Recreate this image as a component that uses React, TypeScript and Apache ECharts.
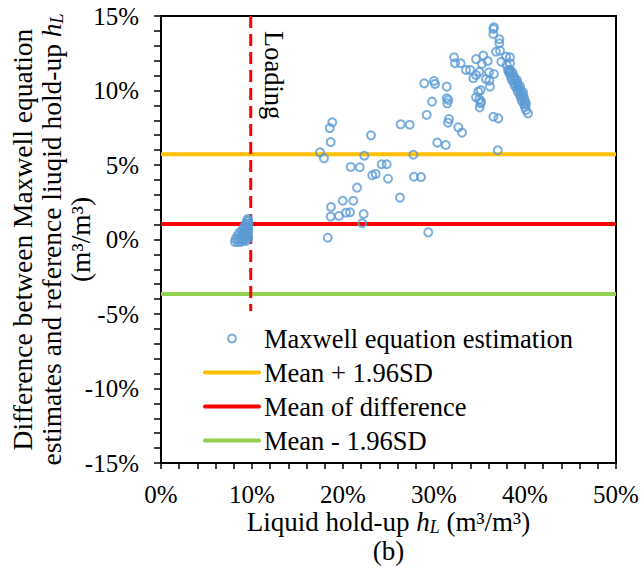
import React, { useEffect, useRef } from 'react';
import * as echarts from 'echarts';

const FONT = 'Liberation Serif';

// Reference lines (values in %)
const meanPlus196SD = 5.72;
const meanOfDifference = 1.04;
const meanMinus196SD = -3.66;
const loadingHoldUp = 9.86;
const loadingLineRange = [15, -4.8];

const xRange = [0, 50];
const yRange = [-15, 15];

// Maxwell equation estimation points: [liquid hold-up %, difference %]
const loadingClusterPoints = [
  [8.13, -0.17], [8.46, -0.17], [8.79, -0.17], [8.2, 0.03], [8.5, 0.03], [8.9, 0.03], [9.3, 0.03],
  [8.4, 0.23], [8.8, 0.23], [9.2, 0.23], [9.5, 0.23], [8.6, 0.44], [9.0, 0.44], [9.35, 0.44],
  [9.55, 0.44], [8.9, 0.64], [9.2, 0.64], [9.45, 0.64], [9.6, 0.64], [9.1, 0.84], [9.4, 0.84],
  [9.58, 0.84], [9.3, 1.04], [9.5, 1.04], [9.6, 1.04], [9.45, 1.24], [9.58, 1.24], [9.55, 1.38],
  [9.34, -0.1], [9.6, 0.1], [9.0, -0.05],
];

const scatteredPoints = [
  [18.82, 7.87], [18.54, 7.48], [18.65, 6.54], [17.47, 5.85], [17.91, 5.45], [23.08, 6.99],
  [22.34, 5.62], [20.85, 4.87], [21.84, 4.85], [24.25, 5.05], [24.8, 5.05], [23.22, 4.31],
  [23.59, 4.4], [24.95, 4.08], [21.54, 3.48], [19.97, 2.6], [21.13, 2.6], [18.68, 2.18],
  [18.65, 1.53], [19.56, 1.58], [20.33, 1.8], [20.77, 1.83], [22.27, 1.71], [22.12, 1.09],
  [18.32, 0.12], [26.34, 7.73], [27.33, 7.7], [29.2, 8.36], [29.78, 9.25], [27.73, 5.69],
  [27.8, 4.21], [28.57, 4.19], [26.26, 2.81], [29.37, 0.48], [30.36, 6.5], [31.29, 6.34],
  [31.65, 8.09], [31.54, 7.84], [32.67, 7.53], [33.08, 7.17], [28.93, 10.48], [30.0, 10.64],
  [30.11, 10.44], [31.4, 10.26], [31.4, 9.48], [31.57, 9.36], [31.46, 9.14], [36.52, 8.24],
  [37.07, 8.13], [37.0, 5.99],
];

const upperClusterPoints = [
  [36.59, 14.24], [36.52, 14.13], [36.52, 13.79], [37.18, 13.44], [37.18, 13.17], [37.25, 12.67],
  [36.81, 12.6], [37.4, 11.93], [37.91, 12.27], [38.35, 12.23], [38.35, 11.83], [37.99, 11.71],
  [32.2, 12.23], [32.31, 11.83], [32.93, 11.83], [34.62, 12.11], [35.42, 12.34], [35.9, 11.98],
  [35.27, 11.78], [33.52, 11.38], [33.96, 11.38], [34.98, 11.26], [34.62, 11.04], [34.32, 10.82],
  [36.04, 11.22], [36.59, 11.11], [35.71, 10.77], [36.08, 10.66], [36.15, 10.26], [35.13, 10.03],
  [34.87, 9.92], [34.62, 9.54], [34.98, 9.41], [35.13, 9.14], [35.02, 8.87], [35.16, 9.25],
];

const bandPoints = [
  [38.13, 11.38], [38.35, 11.38], [38.24, 11.24], [38.57, 11.24], [38.35, 11.11], [38.68, 11.11],
  [38.46, 10.91], [38.79, 10.91], [38.57, 10.7], [38.9, 10.7], [39.12, 10.7], [38.79, 10.5],
  [39.12, 10.5], [38.9, 10.3], [39.23, 10.3], [39.45, 10.3], [39.12, 10.1], [39.45, 10.1],
  [39.23, 9.9], [39.56, 9.9], [39.78, 9.9], [39.45, 9.7], [39.78, 9.7], [39.56, 9.5],
  [39.89, 9.5], [39.67, 9.3], [40.0, 9.3], [39.89, 9.09], [40.11, 9.09], [40.0, 8.89],
  [40.11, 8.69], [40.33, 8.47],
];

const seriesNames = [
  'Maxwell equation estimation',
  'Mean + 1.96SD',
  'Mean of difference',
  'Mean - 1.96SD',
];

const COLORS = {
  blue: '#5B9BD5',
  yellow: '#FFC000',
  red: '#FF0000',
  green: '#92D050',
};

export default function App() {
  const ref = useRef<HTMLDivElement>(null);

  useEffect(() => {
    if (!ref.current) return;
    const chart = echarts.init(ref.current, null, { renderer: 'svg' });

    const allPoints = [
      ...loadingClusterPoints,
      ...scatteredPoints,
      ...upperClusterPoints,
      ...bandPoints,
    ];

    const hLine = (name: string, y: number, color: string) => ({
      name,
      type: 'line',
      data: [[xRange[0], y], [xRange[1], y]],
      symbol: 'none',
      lineStyle: { color, width: 4 },
      itemStyle: { color, opacity: 0 },
      z: 2,
      silent: true,
    });

    const makeRich = (size: number) => ({
      i: { fontFamily: FONT, fontSize: size, fontStyle: 'italic', color: '#000' },
      sub: {
        fontFamily: FONT,
        fontSize: Math.round(size * 0.65),
        fontStyle: 'italic',
        color: '#000',
        verticalAlign: 'bottom',
        lineHeight: Math.round(size * 0.65),
      },
    });

    chart.setOption({
      animation: false,
      backgroundColor: '#fff',
      textStyle: { fontFamily: FONT, color: '#000' },
      grid: {
        left: 161,
        right: 25,
        top: 16,
        bottom: 106,
        show: true,
        borderColor: '#000',
        borderWidth: 2,
        backgroundColor: 'transparent',
        containLabel: false,
        outerBoundsMode: 'none',
      },
      legend: {
        data: seriesNames,
        orient: 'vertical',
        left: 203,
        top: 325,
        padding: 0,
        itemWidth: 54,
        itemHeight: 8,
        itemGap: 7,
        selectedMode: false,
        lineStyle: { width: 4, cap: 'round' },
        textStyle: { fontFamily: FONT, fontSize: 26.5, color: '#000', lineHeight: 26 },
      },
      xAxis: {
        type: 'value',
        min: xRange[0],
        max: xRange[1],
        interval: 10,
        name: 'Liquid hold-up {i|h}{sub|L} (m³/m³)\n(b)',
        nameLocation: 'middle',
        nameGap: 44,
        nameMoveOverlap: false,
        nameTextStyle: {
          fontFamily: FONT,
          fontSize: 27,
          color: '#000',
          lineHeight: 29,
          rich: makeRich(27),
        },
        axisLine: { show: true, onZero: false, lineStyle: { color: '#000', width: 2 } },
        axisTick: { show: true, inside: false, length: 6, lineStyle: { color: '#000', width: 1.5 } },
        minorTick: { show: true, splitNumber: 5, length: 6, lineStyle: { color: '#000', width: 1.5 } },
        splitLine: { show: false },
        minorSplitLine: { show: false },
        axisLabel: {
          fontFamily: FONT,
          fontSize: 25,
          color: '#000',
          margin: 19,
          formatter: '{value}%',
        },
      },
      yAxis: {
        type: 'value',
        min: yRange[0],
        max: yRange[1],
        interval: 5,
        name:
          'Difference between Maxwell equation\nestimates and reference liuqid hold-up {i|h}{sub|L}\n(m³/m³)',
        nameLocation: 'middle',
        nameRotate: 90,
        nameGap: 66,
        nameMoveOverlap: false,
        nameTextStyle: {
          fontFamily: FONT,
          fontSize: 27.5,
          color: '#000',
          lineHeight: 29,
          rich: makeRich(27.5),
        },
        axisLine: { show: true, onZero: false, lineStyle: { color: '#000', width: 2 } },
        axisTick: { show: true, inside: false, length: 7, lineStyle: { color: '#000', width: 1.5 } },
        minorTick: { show: true, splitNumber: 5, length: 7, lineStyle: { color: '#000', width: 1.5 } },
        splitLine: { show: false },
        minorSplitLine: { show: false },
        axisLabel: {
          fontFamily: FONT,
          fontSize: 25,
          color: '#000',
          margin: 22,
          formatter: '{value}%',
        },
      },
      series: [
        {
          name: seriesNames[0],
          type: 'scatter',
          data: allPoints,
          symbol: 'circle',
          symbolSize: 8,
          itemStyle: {
            color: 'rgba(255,255,255,0)',
            borderColor: COLORS.blue,
            borderWidth: 2,
          },
          z: 5,
        },
        hLine(seriesNames[1], meanPlus196SD, COLORS.yellow),
        hLine(seriesNames[2], meanOfDifference, COLORS.red),
        hLine(seriesNames[3], meanMinus196SD, COLORS.green),
        {
          name: 'Loading',
          type: 'line',
          data: [[loadingHoldUp, loadingLineRange[0]], [loadingHoldUp, loadingLineRange[1]]],
          symbol: 'none',
          lineStyle: { color: COLORS.red, width: 3, type: [12, 6] },
          z: 3,
          silent: true,
        },
      ],
      graphic: [
        {
          type: 'text',
          x: 274,
          y: 31,
          rotation: -Math.PI / 2,
          style: {
            text: 'Loading',
            fontFamily: FONT,
            fontSize: 26.5,
            fill: '#000',
            textAlign: 'left',
            textVerticalAlign: 'middle',
          },
          z: 10,
        },
      ],
    });

    return () => chart.dispose();
  }, []);

  return (
    <div
      ref={ref}
      style={{ position: 'fixed', left: 0, top: 0, width: 641, height: 569, background: '#fff' }}
    />
  );
}
